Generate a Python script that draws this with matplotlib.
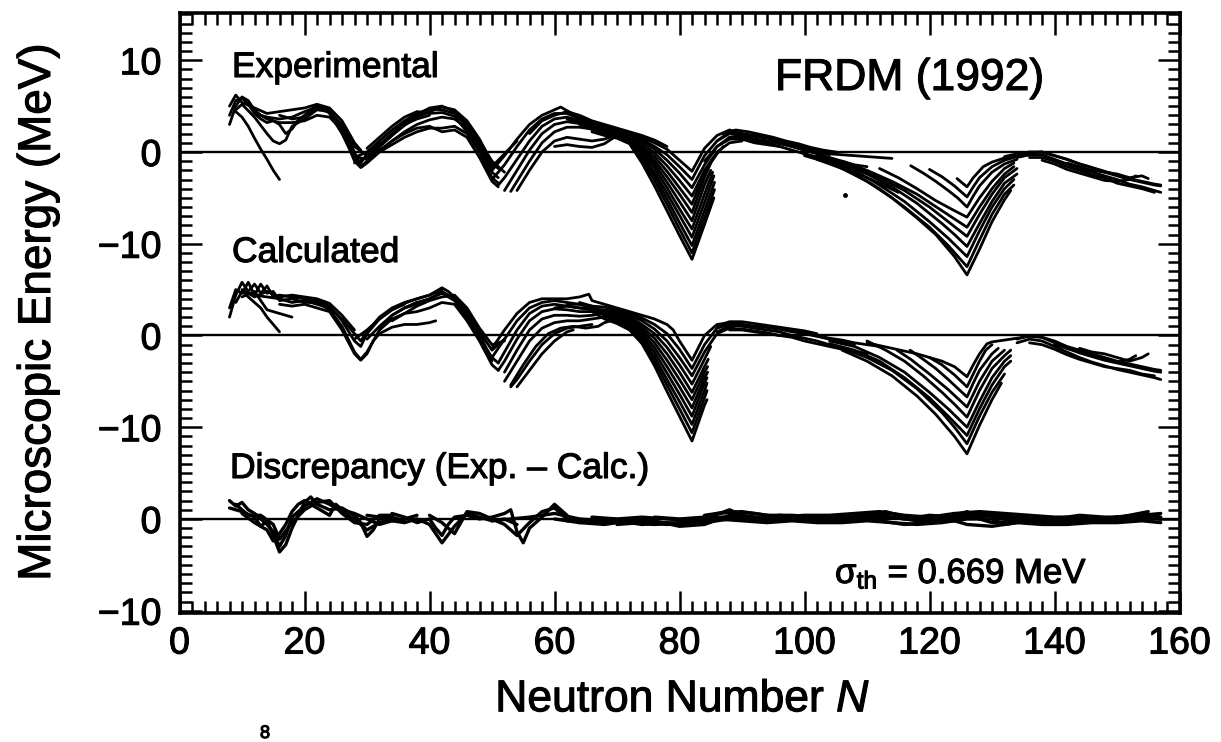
import matplotlib
matplotlib.use("Agg")
import matplotlib.pyplot as plt
import matplotlib.patheffects as pe
from matplotlib.ticker import MultipleLocator

plt.rcParams['font.family'] = ['Liberation Sans', 'DejaVu Sans']
plt.rcParams['mathtext.fontset'] = 'custom'
plt.rcParams['mathtext.rm'] = 'Liberation Sans'
plt.rcParams['mathtext.it'] = 'Liberation Sans:italic'

# ---------------- panel offsets / tick labels ----------------
panel_offsets = [0, -20, -40]          # Experimental, Calculated, Discrepancy
x_ticks = [0, 20, 40, 60, 80, 100, 120, 140, 160]
y_ticks = [10, 0, -10, -20, -30, -40, -50]
y_tick_labels = ["10", "0", "\u221210", "0", "\u221210", "0", "\u221210"]

# ---------------- Experimental: (N, E) per isotopic chain ----------------
exp_l1 = [(8,3.0),(9,5.0),(10,6.0),(11,5.6),(12,4.6),(13,4.0),(14,3.8),(16,3.6),(18,3.8),(20,4.4),(22,4.9),(23,4.8),(24,4.2),(26,2.0),(28,-0.8),(29,-1.2),(30,-0.2),(32,1.0)]
exp_l2 = [(8,4.0),(9,5.6),(10,5.9),(11,5.2),(12,4.2),(13,3.6),(14,3.2),(15,3.4),(16,3.0),(17,2.0),(18,2.5),(19,3.5),(20,4.0),(21,4.6),(22,5.1),(24,4.6),(26,2.6),(27,1.2),(28,-0.5),(30,-0.8),(32,0.6),(34,1.8)]
exp_l3 = [(9,4.6),(10,5.2),(12,3.8),(14,2.0),(15,1.2),(16,0.9),(17,1.3),(18,2.8),(20,3.6),(22,4.6),(24,4.4),(26,2.8),(28,0.0),(29,-1.6),(30,-1.0),(32,0.4)]
exp_l4 = [(9,4.4),(10,3.8),(11,2.8),(12,1.5),(13,0.3),(14,-0.8),(15,-2.0),(16,-3.0)]
exp_l5 = [(12,4.4),(14,3.6),(16,3.2),(18,3.2),(20,3.4),(22,4.0),(24,3.8),(26,2.4),(28,-1.0),(29,-1.7),(30,-1.2),(32,0.0),(34,1.2),(36,2.0)]
exp_l6 = [(16,4.0),(18,3.6),(20,3.8),(22,4.8),(24,4.3),(26,3.0),(28,0.6),(30,-0.4),(32,0.8),(34,2.0),(36,3.0),(38,3.6),(40,4.0)]
exp_l7 = [(8,5.0),(9,6.2),(10,5.4),(12,4.8),(14,4.2),(16,4.4),(18,4.6),(20,4.8),(22,5.2),(24,4.8),(26,3.4),(28,1.0),(29,0.2)]
exp_m1 = [(28,-0.6),(30,0.0),(32,1.2),(34,2.4),(36,3.4),(38,4.2),(40,4.7),(42,4.6),(44,4.2),(46,2.8),(48,0.8),(50,-1.6),(52,-0.2),(54,1.2)]
exp_m2 = [(28,-1.2),(30,-0.6),(32,0.6),(34,1.8),(36,2.9),(38,3.8),(40,4.4),(42,4.9),(44,4.6),(46,3.4),(48,1.4),(50,-1.2),(51,-1.8)]
exp_m3 = [(30,-1.0),(32,0.2),(34,1.2),(36,2.2),(38,3.0),(40,3.5),(42,3.8),(44,3.6),(46,2.6),(48,0.6),(50,-2.2),(51,-2.8)]
exp_m4 = [(32,0.0),(34,0.8),(36,1.6),(38,2.2),(40,2.6),(42,2.6),(44,2.8),(46,2.0),(48,0.0),(50,-2.8),(51,-3.4)]
exp_m5 = [(34,2.0),(36,3.2),(38,4.0),(40,4.8),(42,5.0),(44,4.4),(46,3.2),(48,1.2),(50,-1.0),(52,-2.2)]
exp_m6 = [(36,2.0),(38,2.6),(40,2.8),(42,2.2),(44,2.4),(46,1.6),(48,-0.6),(50,-3.2),(51,-3.8)]
exp_m7 = [(30,0.4),(32,1.6),(34,2.8),(36,3.8),(38,4.4),(40,4.2),(42,4.3),(44,3.9),(46,2.2),(48,0.2),(50,-2.0)]
exp_f82_1 = [(50,-2.0),(52,-0.4),(54,1.4),(56,3.0),(58,4.0),(60,4.6),(61,4.9),(62,4.5),(64,3.8),(66,3.2),(68,2.8),(70,2.4),(72,2.0),(74,1.6),(76,1.0),(78,0.3),(80,-0.9),(82,-2.1),(84,0.4),(86,1.8),(88,2.4),(90,2.0),(92,1.7),(94,1.5),(96,1.2),(98,0.9),(100,0.5),(102,0.1),(104,-0.3)]
exp_f82_2 = [(50,-3.0),(52,-1.4),(54,0.6),(56,2.4),(58,3.6),(60,4.2),(62,4.2),(64,3.6),(66,3.0),(68,2.6),(70,2.3),(72,1.9),(74,1.4),(76,0.6),(78,-0.3),(80,-1.6),(82,-3.0),(84,-0.4),(86,1.2),(88,2.0),(90,1.8),(92,1.4),(94,1.2),(96,0.9),(98,0.6),(100,0.2)]
exp_f82_3 = [(51,-3.6),(52,-2.8),(54,-0.8),(56,1.2),(58,2.8),(60,3.6),(62,3.8),(64,3.4),(66,2.9),(68,2.5),(70,2.2),(72,1.8),(74,1.2),(76,0.3),(78,-0.9),(80,-2.3),(82,-3.9),(84,-1.4),(86,0.6),(88,1.6),(90,1.5),(92,1.2),(94,1.0),(96,0.6)]
exp_f82_4 = [(52,-4.2),(54,-2.0),(56,0.2),(58,2.0),(60,3.0),(62,3.3),(64,3.1),(66,2.7),(68,2.4),(70,2.1),(72,1.6),(74,0.9),(76,-0.1),(78,-1.5),(80,-3.1),(82,-4.8),(84,-2.0),(86,0.0),(88,1.0),(90,1.2)]
exp_f82_5 = [(53,-4.3),(54,-3.2),(56,-1.0),(58,1.0),(60,2.2),(62,2.7),(64,2.7),(66,2.5),(68,2.2),(70,2.0),(72,1.5),(74,0.6),(76,-0.5),(78,-2.1),(80,-3.9),(82,-5.7),(84,-2.2),(86,-0.2),(87,0.6)]
exp_f82_6 = [(54,-4.2),(56,-2.0),(58,0.0),(60,1.2),(62,1.6),(64,1.4),(66,1.2),(68,1.4),(70,1.9),(72,1.4),(74,0.4),(76,-0.9),(78,-2.7),(80,-4.6),(82,-6.6),(84,-2.8),(85,-1.2)]
exp_f82_7 = [(60,0.6),(62,0.8),(64,0.6),(66,0.5),(68,0.9),(70,1.8),(72,1.3),(74,0.2),(76,-1.3),(78,-3.3),(80,-5.4),(82,-7.5),(84,-3.6),(85,-2.0)]
exp_f82_8 = [(62,3.6),(64,3.2),(66,2.8),(68,2.4),(70,1.8),(72,1.2),(74,0.0),(76,-1.7),(78,-3.9),(80,-6.2),(82,-8.4),(84,-4.6),(85.3,-2.2)]
exp_f82_9 = [(64,3.4),(66,3.0),(68,2.6),(70,1.7),(72,1.1),(74,-0.3),(76,-2.2),(78,-4.5),(80,-6.9),(82,-9.3),(84,-5.5),(85.5,-2.6)]
exp_f82_10 = [(64,3.0),(66,2.6),(68,2.2),(70,1.6),(72,1.0),(74,-0.6),(76,-2.6),(78,-5.1),(80,-7.7),(82,-10.2),(84,-6.4),(85.6,-3.3)]
exp_f82_11 = [(66,2.4),(68,2.0),(70,1.6),(72,1.0),(74,-0.9),(76,-3.1),(78,-5.7),(80,-8.4),(82,-11.0),(84,-7.2),(85.6,-4.1)]
exp_f82_12 = [(66,2.2),(68,1.8),(70,1.5),(72,0.9),(74,-1.2),(76,-3.7),(78,-6.4),(80,-9.1),(82,-11.7),(84,-7.9),(85.5,-5.0)]
exp_f82_13 = [(56,2.0),(58,3.4),(60,4.0),(62,4.4),(64,4.0),(66,3.4),(68,3.0),(70,2.6),(72,2.2),(74,1.8),(76,1.3),(78,0.6)]
exp_b1 = [(86,1.2),(88,2.2),(90,2.0),(92,1.8),(94,1.6),(96,1.2),(98,0.8),(100,0.4),(102,0.0),(104,-0.2),(106,-0.3),(108,-0.4),(110,-0.5),(112,-0.6),(114,-0.7)]
exp_b2 = [(88,1.6),(90,1.8),(92,1.4),(94,1.2),(96,1.0),(98,0.6),(100,0.2),(102,-0.2),(104,-0.6),(106,-1.0),(108,-1.4),(110,-1.6)]
exp_b3 = [(84,-1.0),(86,0.6),(88,1.4),(90,1.4),(92,1.0),(94,0.8),(96,0.6),(98,0.2),(100,-0.2),(102,-0.6),(104,-1.0),(106,-1.6),(108,-2.2),(110,-2.8),(112,-3.4),(115,-4.4)]
exp_b4 = [(87,2.0),(89,2.4),(91,2.2),(93,1.9),(95,1.6),(97,1.2),(99,0.9),(101,0.5),(103,0.2),(105,0.0)]
exp_f126_1 = [(124.4,-2.9),(126,-3.8),(127,-2.8),(128.6,-1.6),(130,-1.1),(131.8,-0.7),(134,-0.4),(136,-0.1),(138,0.0),(140,-0.4),(142,-0.8),(144,-1.3),(146,-1.7),(148,-2.1),(150,-2.5),(152,-2.9),(154,-3.2),(156,-3.5),(157,-3.6)]
exp_f126_2 = [(120,-1.9),(122,-2.7),(124,-3.7),(126,-4.9),(127,-3.8),(128,-2.8),(130,-1.6),(132,-0.9),(134,-0.5),(136,-0.3)]
exp_f126_3 = [(117,-1.5),(119,-2.3),(121,-3.2),(123,-4.2),(124.5,-5.0),(126,-6.0),(127,-4.8),(128,-3.7),(130,-2.2),(132,-1.3),(134,-0.8)]
exp_f126_4 = [(112,-1.8),(115,-2.8),(118,-4.0),(121,-5.3),(124,-6.4),(126,-7.1),(128,-5.0),(130,-3.2),(132,-1.8),(133.5,-1.2)]
exp_f126_5 = [(106,-1.0),(110,-2.0),(114,-3.2),(118,-4.6),(122,-6.4),(124,-7.3),(126,-8.2),(128,-6.0),(130,-4.0),(132,-2.4),(133.5,-1.6)]
exp_f126_6 = [(104,-0.8),(108,-1.6),(112,-2.8),(116,-4.2),(120,-6.0),(123,-7.6),(126,-9.2),(128,-6.8),(130,-4.6),(132,-2.8),(134,-1.8)]
exp_f126_7 = [(102,-0.4),(106,-1.2),(110,-2.4),(114,-3.8),(118,-5.6),(122,-7.8),(124,-9.0),(126,-10.3),(128,-7.8),(130,-5.4),(132,-3.4),(134,-2.4)]
exp_f126_8 = [(100,-0.2),(104,-0.9),(108,-2.0),(112,-3.6),(116,-5.4),(120,-7.6),(123,-9.4),(126,-11.4),(128,-8.6),(130,-6.0),(132,-4.0),(133.5,-3.0)]
exp_f126_9 = [(100,-0.4),(104,-1.2),(108,-2.4),(112,-4.0),(116,-6.0),(120,-8.2),(123,-10.2),(126,-12.5),(128,-9.6),(130,-6.8),(132,-4.6),(133.5,-3.6)]
exp_f126_10 = [(102,-0.8),(106,-1.8),(110,-3.2),(114,-5.0),(118,-7.2),(121,-9.0),(124,-11.4),(126,-13.4),(128,-10.6),(130,-7.6),(132,-5.2),(133,-4.2)]
exp_r1 = [(132,-0.5),(134,-0.2),(136,0.0),(138,0.0),(140,-0.4),(142,-0.8),(144,-1.3),(146,-1.7),(148,-2.2),(150,-2.6),(152,-3.0),(154,-3.3),(156,-3.6),(157,-3.7)]
exp_r2 = [(134,-0.6),(136,-0.3),(138,-0.3),(140,-0.8),(142,-1.3),(144,-1.8),(146,-2.2),(148,-2.6),(150,-3.0),(152,-3.5),(154,-3.8),(156,-4.2),(157,-4.4)]
exp_r3 = [(136,-0.6),(138,-0.6),(140,-1.0),(142,-1.6),(144,-2.0),(146,-2.5),(148,-2.8),(150,-3.4),(152,-3.7),(154,-4.0),(156,-4.4)]
exp_r4 = [(138,-0.9),(140,-1.3),(142,-1.9),(144,-2.3),(146,-2.7),(148,-3.1),(150,-3.2),(152,-3.0),(153,-2.6)]
exp_r5 = [(142,-1.2),(144,-1.6),(146,-2.0),(148,-2.2),(150,-2.4),(152,-2.8),(154,-2.6),(155,-2.9)]
exp_dot = [(106.5, -4.7)]

# ---------------- Calculated ----------------
calc_l1 = [(8,2.0),(9,4.4),(10,5.8),(11,4.8),(12,5.6),(13,4.6),(14,5.4),(15,4.2),(16,4.4),(18,4.2),(20,4.0),(22,3.8),(24,3.2),(26,1.6),(28,-0.6),(29,-1.2),(30,0.2),(32,1.8),(34,2.8),(36,3.4)]
calc_l2 = [(8,3.0),(9,5.0),(10,4.6),(11,5.8),(12,4.4),(13,5.6),(14,4.6),(15,4.8),(16,3.8),(18,4.0),(20,3.6),(22,3.6),(24,2.8),(26,1.0),(28,-1.8),(29,-2.6),(30,-1.8),(32,0.6),(34,2.2),(36,3.0),(38,3.6)]
calc_l3 = [(9,3.6),(10,4.8),(11,4.2),(12,3.6),(13,3.0),(14,2.0),(15,1.2),(16,0.4)]
calc_l4 = [(10,4.2),(12,4.8),(14,2.8),(16,2.4),(18,2.0)]
calc_l5 = [(12,4.4),(14,4.2),(16,4.0),(18,3.6),(20,3.8),(22,3.4),(24,3.0),(26,1.8),(28,0.2),(29,-0.6),(30,0.4),(32,2.0),(34,3.0),(36,3.6),(38,4.0),(40,4.4),(42,5.0)]
calc_l6 = [(16,3.4),(18,3.2),(20,3.4),(22,3.0),(24,2.6),(26,0.6),(28,-2.0),(29,-2.7),(30,-2.0),(31,-0.6),(32,0.2)]
calc_l7 = [(10,5.0),(12,4.2),(14,4.8),(16,4.2),(18,4.4),(20,4.2),(22,4.0),(24,3.5),(26,2.2),(28,0.6)]
calc_m1 = [(28,-0.4),(30,0.6),(32,1.8),(34,2.8),(36,3.5),(38,4.0),(40,4.4),(42,5.2),(43,4.8),(44,4.2),(46,2.4),(48,0.4),(50,-1.6),(52,-0.4)]
calc_m2 = [(30,-0.4),(32,1.0),(34,2.2),(36,3.0),(38,3.6),(40,4.0),(42,4.6),(44,3.8),(46,2.0),(48,-0.2),(50,-2.4),(51,-3.0)]
calc_m3 = [(32,0.2),(34,0.9),(36,1.2),(38,1.2),(40,1.4),(41,1.6)]
calc_m4 = [(32,0.6),(34,1.8),(36,2.4),(38,2.6),(40,3.0),(42,3.6),(44,3.4),(46,1.6),(48,-0.6),(50,-3.2),(51,-3.8)]
calc_m5 = [(34,1.6),(36,2.4),(38,3.2),(40,3.8),(42,4.2),(44,4.4),(46,3.0),(48,0.8),(50,-1.0),(52,-0.6)]
calc_m6 = [(36,3.0),(38,3.4),(40,4.0),(42,4.8),(44,4.0),(46,2.6),(48,0.2),(50,-2.8)]
calc_f50_1 = [(53,-5.6),(54,-4.8),(56,-2.8),(58,-1.0),(60,0.2),(62,0.8),(64,1.0),(66,1.2)]
calc_f50_2 = [(54,-5.6),(56,-3.8),(58,-2.0),(60,-0.6),(62,0.4),(63,0.6)]
calc_f82_1 = [(50,-1.4),(52,0.6),(54,2.4),(56,3.6),(58,4.0),(60,4.0),(62,4.0),(64,4.2),(65.5,4.5),(66,3.8),(68,3.4),(70,3.0),(72,2.6),(74,2.2),(76,1.8),(78,1.2),(79,0.6),(80,-0.6),(82,-2.7),(84,0.0),(86,1.2),(88,1.4),(90,1.2),(92,1.0),(94,0.9),(96,0.7),(98,0.4),(100,0.2),(102,-0.1),(104,-0.4),(106,-0.7),(108,-1.0)]
calc_f82_2 = [(50,-2.4),(52,-0.4),(54,1.6),(56,3.0),(58,3.6),(60,3.8),(62,3.6),(64,3.4),(66,3.2),(68,3.1),(70,2.8),(72,2.4),(74,1.9),(76,1.2),(78,0.2),(80,-1.5),(82,-3.6),(84,-1.0),(86,0.8),(88,1.2),(90,1.0),(92,0.8),(94,0.6),(96,0.4),(98,0.0),(100,-0.3),(102,-0.6),(104,-1.0),(106,-1.3),(108,-1.7),(110,-2.0)]
calc_f82_3 = [(51,-3.0),(52,-1.8),(54,0.6),(56,2.4),(58,3.2),(60,3.4),(62,3.2),(64,3.0),(66,2.9),(68,2.8),(70,2.6),(72,2.2),(74,1.6),(76,0.7),(78,-0.6),(80,-2.4),(82,-4.4),(84,-1.8),(86,0.2),(88,0.8),(90,0.7),(92,0.5),(94,0.3),(96,0.0)]
calc_f82_4 = [(51,-3.8),(52,-2.8),(54,-0.4),(56,1.6),(58,2.6),(60,2.9),(62,2.8),(64,2.6),(66,2.6),(68,2.6),(70,2.4),(72,2.0),(74,1.2),(76,0.2),(78,-1.3),(80,-3.2),(82,-5.3),(84,-2.6),(85,-1.2)]
calc_f82_5 = [(52,-4.0),(54,-1.6),(56,0.6),(58,1.8),(60,2.2),(62,2.2),(64,2.1),(66,2.2),(68,2.4),(70,2.2),(72,1.8),(74,0.9),(76,-0.3),(78,-2.0),(80,-4.0),(82,-6.2),(84,-3.4),(84.6,-2.6)]
calc_f82_6 = [(52,-5.0),(54,-2.8),(56,-0.6),(58,0.8),(60,1.4),(62,1.6),(64,1.6),(66,1.8),(68,2.0),(70,2.0),(72,1.6),(74,0.6),(76,-0.8),(78,-2.7),(80,-4.8),(82,-7.0),(84,-4.0),(84.5,-3.4)]
calc_f82_7 = [(53,-5.4),(55,-3.2),(57,-1.2),(59,0.2),(61,0.8),(63,1.0),(65,0.8),(67,1.0),(68,1.4),(70,1.8),(72,1.4),(74,0.3),(76,-1.3),(78,-3.4),(80,-5.6),(82,-7.9),(84,-4.6),(84.5,-4.0)]
calc_f82_8 = [(60,3.0),(62,3.2),(64,3.0),(66,2.8),(68,2.6),(70,1.6),(72,1.2),(74,0.0),(76,-1.8),(78,-4.1),(80,-6.4),(82,-8.8),(84,-5.2),(84.4,-4.6)]
calc_f82_9 = [(62,3.4),(64,3.4),(66,3.0),(68,2.2),(70,1.5),(72,1.0),(74,-0.3),(76,-2.3),(78,-4.8),(80,-7.2),(82,-9.7),(84,-6.0),(84.4,-5.2)]
calc_f82_10 = [(64,3.6),(66,3.2),(68,2.2),(70,1.4),(72,0.8),(74,-0.6),(76,-2.8),(78,-5.4),(80,-8.0),(82,-10.6),(84,-6.8),(84.4,-6.0)]
calc_f82_11 = [(66,2.6),(68,1.8),(70,1.3),(72,0.6),(74,-0.9),(76,-3.3),(78,-6.1),(80,-8.8),(82,-11.5),(84,-7.6),(84.4,-7.0)]
calc_b1 = [(86,0.4),(88,1.0),(90,1.2),(92,1.0),(94,0.9),(96,0.7),(98,0.5),(100,0.3),(102,0.0),(104,-0.3),(106,-0.5),(108,-0.8),(110,-1.0),(112,-1.2)]
calc_b2 = [(88,0.6),(90,0.6),(92,0.4),(94,0.2),(96,0.0),(98,-0.2),(100,-0.6),(102,-0.9),(104,-1.2),(106,-1.5),(108,-1.8),(110,-2.0)]
calc_b3 = [(86,1.0),(88,1.5),(90,1.5),(92,1.3),(94,1.1),(96,0.9),(98,0.7),(100,0.5),(102,0.2)]
calc_f126_1 = [(110,-0.8),(114,-1.4),(118,-2.0),(122,-2.8),(124,-3.4),(126,-4.5),(127,-3.2),(128,-2.0),(129.2,-0.9),(130,-0.7),(132,-0.5),(134,-0.3),(136,-0.1),(138,-0.2),(140,-0.6),(142,-1.2),(144,-1.6),(146,-2.0),(148,-2.4),(150,-2.8),(152,-3.1),(154,-3.4),(156,-3.7),(157,-3.8)]
calc_f126_2 = [(120,-2.4),(122,-3.2),(124,-4.3),(126,-5.6),(127,-4.2),(128,-2.8),(129,-1.6),(130,-1.0)]
calc_f126_3 = [(116.9,-1.6),(119,-2.6),(121,-3.6),(123,-4.8),(126,-6.7),(127,-5.2),(128,-3.8),(130,-2.0),(131,-1.4)]
calc_f126_4 = [(114.8,-1.6),(117,-2.6),(120,-4.2),(123,-5.9),(126,-7.8),(128,-5.0),(130,-2.8),(132,-1.6)]
calc_f126_5 = [(110,-0.6),(113,-1.6),(116,-2.8),(119,-4.4),(122,-6.2),(124,-7.5),(126,-8.9),(128,-6.0),(130,-3.6),(132,-2.2),(133,-1.6)]
calc_f126_6 = [(104,-0.6),(108,-1.2),(112,-2.4),(116,-4.0),(120,-6.2),(123,-8.0),(126,-10.0),(128,-7.2),(130,-4.6),(132,-2.8),(133,-2.2)]
calc_f126_7 = [(104,-0.9),(108,-1.6),(112,-2.8),(116,-4.6),(120,-6.8),(123,-8.8),(126,-10.9),(128,-8.0),(130,-5.4),(132,-3.4),(133,-2.8)]
calc_f126_8 = [(106,-1.4),(110,-2.4),(114,-3.8),(118,-5.8),(122,-8.4),(124,-10.0),(126,-11.8),(128,-8.8),(130,-6.2),(132,-4.2)]
calc_f126_9 = [(106,-1.6),(110,-2.8),(114,-4.4),(118,-6.6),(121,-8.6),(124,-11.0),(126,-12.9),(128,-9.8),(130,-7.0),(131.5,-5.2)]
calc_r1 = [(134,-0.4),(136,0.0),(138,-0.2),(140,-0.8),(142,-1.4),(144,-1.9),(146,-2.3),(148,-2.7),(150,-3.0),(152,-3.3),(154,-3.6),(156,-3.9),(157,-4.0)]
calc_r2 = [(134,-0.8),(136,-0.4),(138,-0.6),(140,-1.2),(142,-1.8),(144,-2.4),(146,-2.9),(148,-3.3),(150,-3.7),(152,-4.0),(154,-4.3),(156,-4.6),(157,-4.8)]
calc_r3 = [(136,-0.8),(138,-1.0),(140,-1.5),(142,-2.1),(144,-2.6),(146,-3.0),(148,-3.4),(150,-3.6),(152,-3.8),(154,-4.2),(156,-4.4)]
calc_r4 = [(140,-1.0),(142,-1.4),(144,-1.8),(146,-2.2),(148,-2.6),(150,-2.9),(152,-2.6),(153,-2.2)]
calc_r5 = [(144,-1.4),(146,-1.8),(148,-2.0),(150,-2.4),(152,-2.8),(154,-2.4),(155,-2.0)]

# ---------------- Discrepancy (Exp. - Calc.) ----------------
disc_l1 = [(8,2.0),(9,1.4),(10,1.8),(11,1.0),(12,0.6),(13,0.0),(14,-0.6),(15,-1.4),(16,-3.0),(17,-1.8),(18,0.2),(20,1.4),(22,2.2),(24,1.6),(26,0.8),(28,0.0),(30,-1.2),(32,-0.4),(34,0.0)]
disc_l2 = [(8,1.2),(10,0.8),(12,0.2),(13,-0.8),(14,-0.2),(15,-1.8),(16,-3.6),(17,-2.8),(18,-1.0),(19,0.4),(20,1.8),(21,2.4),(22,1.6),(24,1.0),(26,1.2),(28,0.4),(29,-0.4),(30,-1.9),(31,-1.2),(32,0.0),(34,0.2),(36,-0.2)]
disc_l3 = [(10,0.6),(12,-0.4),(14,-1.2),(15,-2.4),(16,-1.6),(17,-0.6),(18,0.8),(19,1.6),(20,2.0),(22,1.2),(24,0.4),(25,1.6),(26,1.0),(28,0.6),(30,0.0),(32,-0.6),(34,-0.2),(36,0.0),(38,0.4)]
disc_l4 = [(9,1.6),(11,0.4),(13,0.4),(15,-0.6),(16,-2.2),(18,-0.4),(20,1.0),(22,1.8),(24,2.0),(26,0.6),(28,-0.4),(30,-0.6),(32,0.4),(34,0.4)]
disc_m1 = [(30,0.4),(32,0.2),(34,-0.2),(36,-0.4),(38,0.0),(40,-0.6),(42,-2.6),(44,-0.8),(46,0.6),(48,0.2),(50,-0.2),(52,0.0),(54,-0.6)]
disc_m2 = [(34,0.6),(36,0.2),(38,-0.4),(40,0.0),(41,-1.0),(42,-1.8),(43,-0.6),(44,0.2),(46,0.4),(48,0.0),(50,0.2),(52,0.6),(53,1.0),(54,-1.4),(55,-2.6),(56,-1.0),(58,0.2),(60,1.6),(61,1.0),(62,0.4)]
disc_m3 = [(40,0.4),(42,-0.4),(44,-1.6),(45,-0.4),(46,0.8),(48,0.6),(50,0.0),(52,-0.6),(54,-1.8),(56,-0.4),(58,0.8),(60,1.2),(62,0.0),(64,-0.4),(66,-0.2)]
disc_f1 = [(50,-0.2),(56,0.2),(60,0.6),(64,0.0),(68,-0.2),(72,-0.4),(76,-0.6),(80,-0.4),(84,0.0),(88,1.0),(90,0.4),(94,0.0),(98,0.2),(102,0.0),(106,0.2),(110,0.4),(113,0.8),(116,0.2),(120,-0.2),(124,0.4),(126,0.8),(128,0.2),(131,0.6),(134,0.0),(138,-0.2),(142,-0.4),(146,-0.2),(150,0.0),(154,0.6),(157,0.2)]
disc_f2 = [(60,0.0),(64,-0.4),(68,-0.6),(72,-0.2),(76,-0.2),(80,-0.8),(84,-0.6),(88,0.4),(92,0.2),(96,-0.2),(100,0.0),(104,-0.2),(108,0.0),(112,-0.2),(116,-0.6),(120,-0.4),(124,-0.2),(126,-0.6),(130,-0.8),(134,-0.4),(138,-0.6),(142,-0.6),(146,-0.4),(150,-0.4),(154,-0.2),(157,-0.4)]
disc_f3 = [(66,0.2),(70,0.0),(74,0.2),(78,0.0),(82,-0.2),(86,0.6),(90,0.8),(94,0.4),(98,0.4),(102,0.2),(106,0.0),(110,0.2),(114,0.6),(118,0.0),(122,0.2),(126,0.6),(130,0.4),(134,0.2),(138,0.0),(142,-0.2),(146,0.0),(150,0.2),(154,0.4),(157,0.6)]
disc_f4 = [(70,-0.6),(74,-0.4),(78,-0.6),(82,-0.4),(86,0.0),(90,-0.2),(94,-0.4),(98,-0.2),(102,-0.4),(106,-0.4),(110,-0.2),(114,-0.4),(118,-0.6),(122,-0.4),(126,0.0),(130,0.0),(132,-0.6),(136,-0.2),(140,-0.4),(144,-0.2),(148,-0.2),(152,0.0),(156,0.2)]
disc_f5 = [(84,0.4),(88,0.8),(92,0.6),(96,0.2),(100,0.4),(104,0.4),(108,0.6),(112,0.8),(116,0.4),(120,0.2),(124,0.6),(128,0.8),(132,0.6),(136,0.4),(140,0.2),(144,0.2),(148,0.0),(152,0.4),(155,0.8)]
disc_f6 = [(62,-0.2),(66,-0.4),(70,-0.2),(74,-0.6),(78,-0.4),(82,-0.6),(86,-0.2),(90,0.2),(94,-0.2),(98,0.0),(102,-0.2),(106,0.2),(110,0.0),(114,0.2),(118,-0.2),(122,0.0),(126,0.4),(130,-0.4),(134,-0.2),(138,-0.4),(142,0.0),(146,-0.2),(150,0.2),(154,0.0),(157,0.0)]
disc_f7 = [(76,0.2),(80,0.0),(84,0.2),(88,0.2),(92,0.0),(96,0.4),(100,0.2),(104,0.0),(108,0.4),(112,0.4),(116,0.0),(120,0.4),(124,0.2),(128,0.4),(132,0.2),(136,0.0),(140,0.0),(144,0.4),(148,0.2),(152,0.2),(156,0.4)]

exp_chains = [exp_l1, exp_l2, exp_l3, exp_l4, exp_l5, exp_l6, exp_l7,
              exp_m1, exp_m2, exp_m3, exp_m4, exp_m5, exp_m6, exp_m7,
              exp_f82_1, exp_f82_2, exp_f82_3, exp_f82_4, exp_f82_5, exp_f82_6,
              exp_f82_7, exp_f82_8, exp_f82_9, exp_f82_10, exp_f82_11, exp_f82_12,
              exp_f82_13,
              exp_b1, exp_b2, exp_b3, exp_b4,
              exp_f126_1, exp_f126_2, exp_f126_3, exp_f126_4, exp_f126_5,
              exp_f126_6, exp_f126_7, exp_f126_8, exp_f126_9, exp_f126_10,
              exp_r1, exp_r2, exp_r3, exp_r4, exp_r5]
calc_chains = [calc_l1, calc_l2, calc_l3, calc_l4, calc_l5, calc_l6, calc_l7,
               calc_m1, calc_m2, calc_m3, calc_m4, calc_m5, calc_m6,
               calc_f50_1, calc_f50_2,
               calc_f82_1, calc_f82_2, calc_f82_3, calc_f82_4, calc_f82_5, calc_f82_6,
               calc_f82_7, calc_f82_8, calc_f82_9, calc_f82_10, calc_f82_11,
               calc_b1, calc_b2, calc_b3,
               calc_f126_1, calc_f126_2, calc_f126_3, calc_f126_4, calc_f126_5,
               calc_f126_6, calc_f126_7, calc_f126_8, calc_f126_9,
               calc_r1, calc_r2, calc_r3, calc_r4, calc_r5]
disc_chains = [disc_l1, disc_l2, disc_l3, disc_l4, disc_m1, disc_m2, disc_m3,
               disc_f1, disc_f2, disc_f3, disc_f4, disc_f5, disc_f6, disc_f7]

# ---------------- figure ----------------
W, H = 1221, 742
fig = plt.figure(figsize=(W / 100, H / 100), dpi=100)
ax = fig.add_axes([179.5 / W, 1 - 613 / H, 1000 / W, 600 / H])

LW = 2.0
for chains, off in zip([exp_chains, calc_chains, disc_chains], panel_offsets):
    lw = LW if off > -40 else 2.4
    for ch in chains:
        n = [p[0] for p in ch]
        e = [p[1] + off for p in ch]
        ax.plot(n, e, color='black', lw=lw, solid_joinstyle='round',
                solid_capstyle='round')
    ax.axhline(off, color='black', lw=1.7)

ax.plot([p[0] for p in exp_dot], [p[1] + panel_offsets[0] for p in exp_dot],
        'o', color='black', ms=2.5)

ax.set_xlim(0, 160)
ax.set_ylim(-50.25, 15.15)
ax.set_xticks(x_ticks)
ax.set_xticklabels([str(v) for v in x_ticks])
ax.xaxis.set_minor_locator(MultipleLocator(2))
ax.set_yticks(y_ticks)
ax.set_yticklabels(y_tick_labels)
ax.yaxis.set_minor_locator(MultipleLocator(1))

ax.tick_params(which='both', direction='in', top=True, right=True,
               width=1.8, colors='black')
ax.tick_params(which='major', length=16)
ax.tick_params(which='minor', length=8.5)
ax.tick_params(axis='x', which='major', labelsize=27, pad=9)
ax.tick_params(axis='y', which='major', labelsize=27, pad=13)
for s in ax.spines.values():
    s.set_linewidth(2.6)

heavy = [pe.withStroke(linewidth=0.8, foreground='black')]
for lab in ax.get_xticklabels() + ax.get_yticklabels():
    lab.set_path_effects(heavy)

def fx(px):
    return px / W

def fy(py):
    return 1 - py / H

texts = [
    fig.text(fx(232), fy(77), 'Experimental', fontsize=25.5, va='baseline', ha='left'),
    fig.text(fx(232), fy(262), 'Calculated', fontsize=25.5, va='baseline', ha='left'),
    fig.text(fx(230), fy(478), 'Discrepancy (Exp. \u2013 Calc.)', fontsize=25.5,
             va='baseline', ha='left'),
    fig.text(fx(775), fy(90), 'FRDM (1992)', fontsize=32, va='baseline', ha='left'),
    fig.text(fx(835), fy(583), r'$\mathrm{\sigma_{th}}$ = 0.669 MeV', fontsize=25,
             va='baseline', ha='left'),
    fig.text(fx(38), fy(312), 'Microscopic Energy (MeV)', fontsize=33, rotation=90,
             va='center', ha='center'),
    fig.text(fx(683), fy(700), 'Neutron Number $N$', fontsize=32, va='center',
             ha='center'),
    fig.text(fx(265), fy(725), '8', fontsize=13, va='top', ha='center'),
]
for t in texts:
    t.set_path_effects(heavy)

fig.savefig('out.png', dpi=100)
